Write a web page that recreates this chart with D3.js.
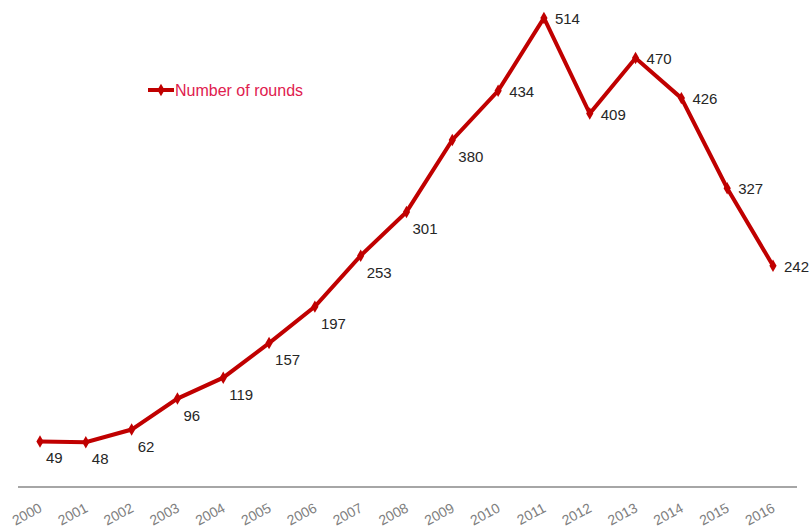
<!DOCTYPE html>
<html><head><meta charset="utf-8">
<script src="https://cdn.jsdelivr.net/npm/d3@7"></script>
<style>body{margin:0;background:#fff}svg{display:block}text{font-family:"Liberation Sans",Arial,sans-serif}</style>
</head><body><svg id="c" width="811" height="528"></svg>
<script>
const years = ["2000","2001","2002","2003","2004","2005","2006","2007","2008","2009","2010","2011","2012","2013","2014","2015","2016"];
const rounds = [49,48,62,96,119,157,197,253,301,380,434,514,409,470,426,327,242];
const seriesName = "Number of rounds";

const svg = d3.select("#c");
const x = d3.scalePoint().domain(years).range([40,773]);
const y = d3.scaleLinear().domain([0,514]).range([486,18]);

// axis line
svg.append("line").attr("x1",18).attr("x2",797).attr("y1",487).attr("y2",487)
  .attr("stroke","#a6a6a6").attr("stroke-width",2);

// x labels
svg.selectAll("text.xl").data(years).enter().append("text").attr("class","xl")
  .attr("transform",d=>`translate(${x(d)+3},${511}) rotate(-28)`)
  .attr("text-anchor","end").attr("font-size",14).attr("fill","#808080").text(d=>d);

const data = years.map((d,i)=>({year:d,v:rounds[i],i}));
const red = "#c00000";
svg.append("path").datum(data)
  .attr("d",d3.line().x(d=>x(d.year)).y(d=>y(d.v)))
  .attr("fill","none").attr("stroke",red).attr("stroke-width",4).attr("stroke-linejoin","miter");

const diamond = d3.symbol().type(d3.symbolDiamond).size(45);
svg.selectAll("path.m").data(data).enter().append("path").attr("class","m")
  .attr("d",diamond).attr("transform",d=>`translate(${x(d.year)},${y(d.v)})`).attr("fill",red);

svg.selectAll("text.dl").data(data).enter().append("text").attr("class","dl")
  .attr("x",d=>x(d.year)+(d.i>=10?11:6))
  .attr("y",d=>y(d.v)+(d.i>=10?6:22))
  .attr("font-size",15).attr("fill","#262626").text(d=>d.v);

// legend
const lg = svg.append("g");
lg.append("line").attr("x1",148).attr("x2",174).attr("y1",90).attr("y2",90).attr("stroke",red).attr("stroke-width",4);
lg.append("path").attr("d",diamond).attr("transform","translate(161,90)").attr("fill",red);
lg.append("text").attr("x",175).attr("y",95.5).attr("font-size",16).attr("fill","#e0204e").text(seriesName);
</script></body></html>
